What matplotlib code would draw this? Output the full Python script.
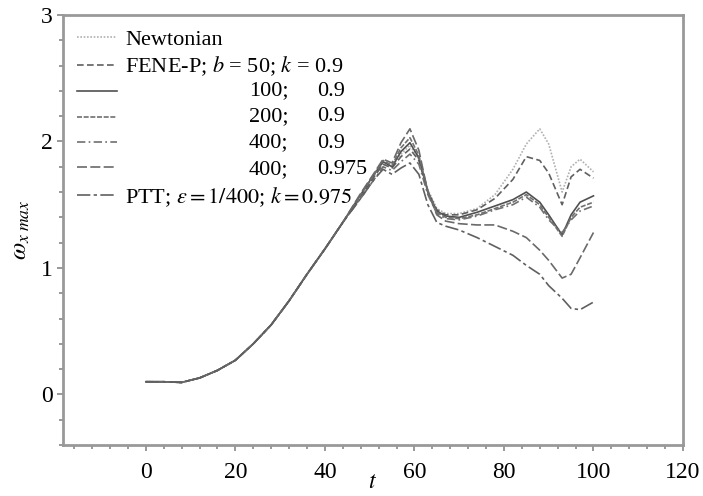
import numpy as np
import matplotlib.pyplot as plt
from matplotlib.ticker import MultipleLocator

plt.rcParams['font.family'] = ['Liberation Serif', 'DejaVu Serif']
plt.rcParams['mathtext.fontset'] = 'stix'

t = [0, 4, 8, 12, 16, 20, 24, 28, 32, 36, 40, 44, 48, 51, 53,
     55, 57, 59, 61, 63, 65, 67, 70, 74, 78, 82, 85, 88, 90, 93, 95, 97, 100]

base = [0.10, 0.10, 0.095, 0.13, 0.19, 0.27, 0.40, 0.55, 0.74, 0.95, 1.15, 1.36]

newt = base + [1.57, 1.73, 1.83, 1.80, 1.90, 1.97, 1.86, 1.62, 1.47, 1.43, 1.43, 1.47,
               1.58, 1.78, 1.98, 2.10, 1.98, 1.60, 1.80, 1.86, 1.76]
fene50 = base + [1.56, 1.72, 1.82, 1.79, 1.88, 1.94, 1.85, 1.60, 1.46, 1.42, 1.42, 1.46,
                 1.55, 1.70, 1.88, 1.85, 1.75, 1.50, 1.72, 1.78, 1.71]
fene100 = base + [1.58, 1.74, 1.84, 1.80, 1.92, 1.99, 1.87, 1.60, 1.45, 1.41, 1.40, 1.44,
                  1.49, 1.54, 1.60, 1.52, 1.42, 1.26, 1.42, 1.52, 1.57]
fene200 = base + [1.58, 1.74, 1.85, 1.81, 1.95, 2.03, 1.89, 1.61, 1.44, 1.40, 1.39, 1.42,
                  1.47, 1.52, 1.58, 1.50, 1.40, 1.25, 1.40, 1.48, 1.52]
fene400 = base + [1.55, 1.70, 1.80, 1.77, 1.84, 1.90, 1.82, 1.58, 1.43, 1.39, 1.38, 1.41,
                  1.46, 1.50, 1.56, 1.48, 1.38, 1.28, 1.38, 1.45, 1.49]
fene400b = base + [1.59, 1.75, 1.86, 1.83, 1.99, 2.10, 1.93, 1.60, 1.42, 1.37, 1.35, 1.34,
                   1.34, 1.29, 1.24, 1.14, 1.06, 0.92, 0.95, 1.08, 1.28]
ptt = base + [1.55, 1.70, 1.78, 1.74, 1.79, 1.83, 1.74, 1.50, 1.36, 1.33, 1.30, 1.24,
              1.17, 1.10, 1.02, 0.95, 0.86, 0.76, 0.68, 0.67, 0.73]

labels = ['Newtonian', 'FENE-P; $b$ = 50; $k$ = 0.9', ' ', ' ', ' ', ' ',
          'PTT; $\\epsilon = 1/400$; $k = 0.975$']
series = [newt, fene50, fene100, fene200, fene400, fene400b, ptt]
colors = ['#b0b0b0', '#606060', '#505050', '#707070', '#707070', '#6a6a6a', '#606060']
styles = [(0, (1, 1)), (0, (4, 2)), '-', (0, (3, 1)), (0, (5, 2, 1, 2)),
          (0, (6, 2)), (0, (8, 2, 2, 2))]

fig = plt.figure(figsize=(7.03, 4.96), dpi=100)
ax = fig.add_axes([63 / 703, 51 / 496, 620 / 703, 430 / 496])

for y, c, ls, lab in zip(series, colors, styles, labels):
    ax.plot(t, y, color=c, linestyle=ls, linewidth=1.2, label=lab)

ax.set_xlim(-18.5, 120)
ax.set_ylim(-0.4, 3)
ax.set_xticks([0, 20, 40, 60, 80, 100, 120])
ax.set_yticks([0, 1, 2, 3])
ax.xaxis.set_minor_locator(MultipleLocator(4))
ax.yaxis.set_minor_locator(MultipleLocator(0.2))
ax.tick_params(which='both', direction='out', color='#888888', labelsize=17,
               top=False, right=False)
ax.tick_params(axis='x', pad=8)
ax.tick_params(which='major', length=4, width=1.2)
ax.tick_params(which='minor', length=3, width=1.2)
for s in ax.spines.values():
    s.set_color('#999999')
    s.set_linewidth(2)

ax.set_xlabel('$t$', fontsize=17, labelpad=-8)
ax.set_ylabel('$\\omega_{x\\ max}$', fontsize=18, labelpad=6)

leg = ax.legend(loc='upper left', bbox_to_anchor=(0.0, 1.0), frameon=False,
                fontsize=16, handlelength=1.8, handletextpad=0.36,
                labelspacing=0.22, borderaxespad=0.25)

rows = [('100;', '0.9'), ('200;', '0.9'), ('400;', '0.9'), ('400;', '0.975')]
ys = [0.823, 0.763, 0.702, 0.640]
for (a, b), yy in zip(rows, ys):
    ax.text(0.300, yy, a, transform=ax.transAxes, fontsize=16, va='center')
    ax.text(0.410, yy, b, transform=ax.transAxes, fontsize=16, va='center')

plt.savefig('out.png', dpi=100)
